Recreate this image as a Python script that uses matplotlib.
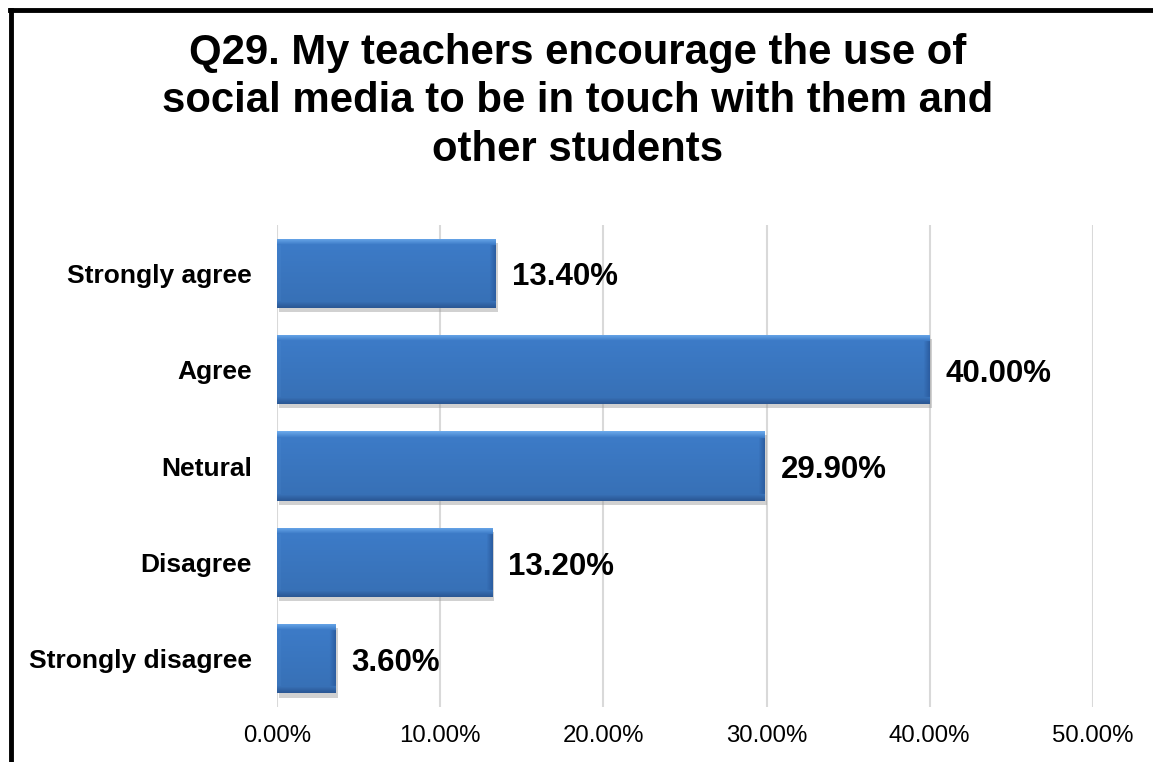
import numpy as np
import matplotlib
matplotlib.use('Agg')
from matplotlib import pyplot as plt
from matplotlib.lines import Line2D
import matplotlib.patheffects as pe

categories = ['Strongly agree', 'Agree', 'Netural', 'Disagree', 'Strongly disagree']
values = [13.40, 40.00, 29.90, 13.20, 3.60]
ticks = [0, 10, 20, 30, 40, 50]
title = 'Q29. My teachers encourage the use of\nsocial media to be in touch with them and\nother students'

plt.rcParams['font.family'] = ['Liberation Sans', 'DejaVu Sans']

fig = plt.figure(figsize=(11.53, 7.62), dpi=100)
ax = fig.add_axes([0.2402, 0.0722, 0.7077, 0.6325])

ypos = np.arange(len(categories))
bars = ax.barh(ypos, values, height=0.72, color='#3C7BC8', edgecolor='none', zorder=3)

ax.set_xlim(0, 50)
ax.set_ylim(len(categories) - 0.5, -0.5)
ax.set_xticks(ticks)
ax.set_xticklabels(['%.2f%%' % t for t in ticks], fontsize=17.3)
ax.set_yticks(ypos)
ax.set_yticklabels(categories, fontsize=19, fontweight='bold')
ax.tick_params(axis='both', length=0)
ax.tick_params(axis='x', pad=13)
ax.tick_params(axis='y', pad=18)
ax.grid(axis='x', color='#D9D9D9', linewidth=1.5, zorder=0)
for s in ax.spines.values():
    s.set_visible(False)

fig.canvas.draw()
px_per_x = ax.transData.transform((1, 0))[0] - ax.transData.transform((0, 0))[0]
px_per_y = abs(ax.transData.transform((0, 1))[1] - ax.transData.transform((0, 0))[1])

# bevelled fill laid over each bar
light = np.array([0x6A, 0xA8, 0xEA]) / 255.0
base = np.array([0x3D, 0x7C, 0xC9]) / 255.0
dark = np.array([0x2B, 0x58, 0x95]) / 255.0
side = np.array([0x2C, 0x5E, 0xA2]) / 255.0
bev = 7
for b in bars:
    x0, y0 = b.get_x(), b.get_y()
    w, h = b.get_width(), b.get_height()
    nx = max(int(w * px_per_x), 2)
    ny = max(int(h * px_per_y), 2)
    rows = np.linspace(0, 1, ny)
    img = np.zeros((ny, nx, 3))
    img[:] = (base[None, :] * (1 - 0.1 * rows[:, None]))[:, None, :]
    t = np.linspace(0, 1, bev)[:, None, None]
    img[:bev] = light * (1 - t) + img[:bev] * t
    img[-bev:] = img[-bev:] * (1 - t) + dark * t
    cols = np.linspace(0, 1, bev)[None, :, None]
    img[bev:-bev, -bev:] = img[bev:-bev, -bev:] * (1 - cols) + side * cols
    img[bev:-bev, :4] = img[bev:-bev, :4] * 0.92 + 0.08 * light
    img = np.clip(img, 0, 1)
    im = ax.imshow(img, extent=(x0, x0 + w, y0 + h, y0), aspect='auto',
                   interpolation='bilinear', zorder=4)
    im.set_clip_path(b)
    b.set_path_effects([pe.SimplePatchShadow(offset=(1.5, -3), shadow_rgbFace='#9A9A9A', alpha=0.45),
                        pe.Normal()])

for b, v in zip(bars, values):
    ax.annotate('%.2f%%' % v, (v, b.get_y() + b.get_height() / 2),
                xytext=(11.5, -3), textcoords='offset points', va='center', ha='left',
                fontsize=22.5, fontweight='bold', zorder=5)

fig.text(0.501, 1 - 33 / 762, title, ha='center', va='top', fontsize=30.2,
         fontweight='bold', linespacing=1.27)

fig.add_artist(Line2D([11 / 1153, 11 / 1153], [0, 1 - 9.5 / 762], color='black',
                      linewidth=3.5, transform=fig.transFigure))
fig.add_artist(Line2D([9.5 / 1153, 1], [1 - 9.5 / 762, 1 - 9.5 / 762], color='black',
                      linewidth=3.5, transform=fig.transFigure))

fig.savefig('out.png', dpi=100)
